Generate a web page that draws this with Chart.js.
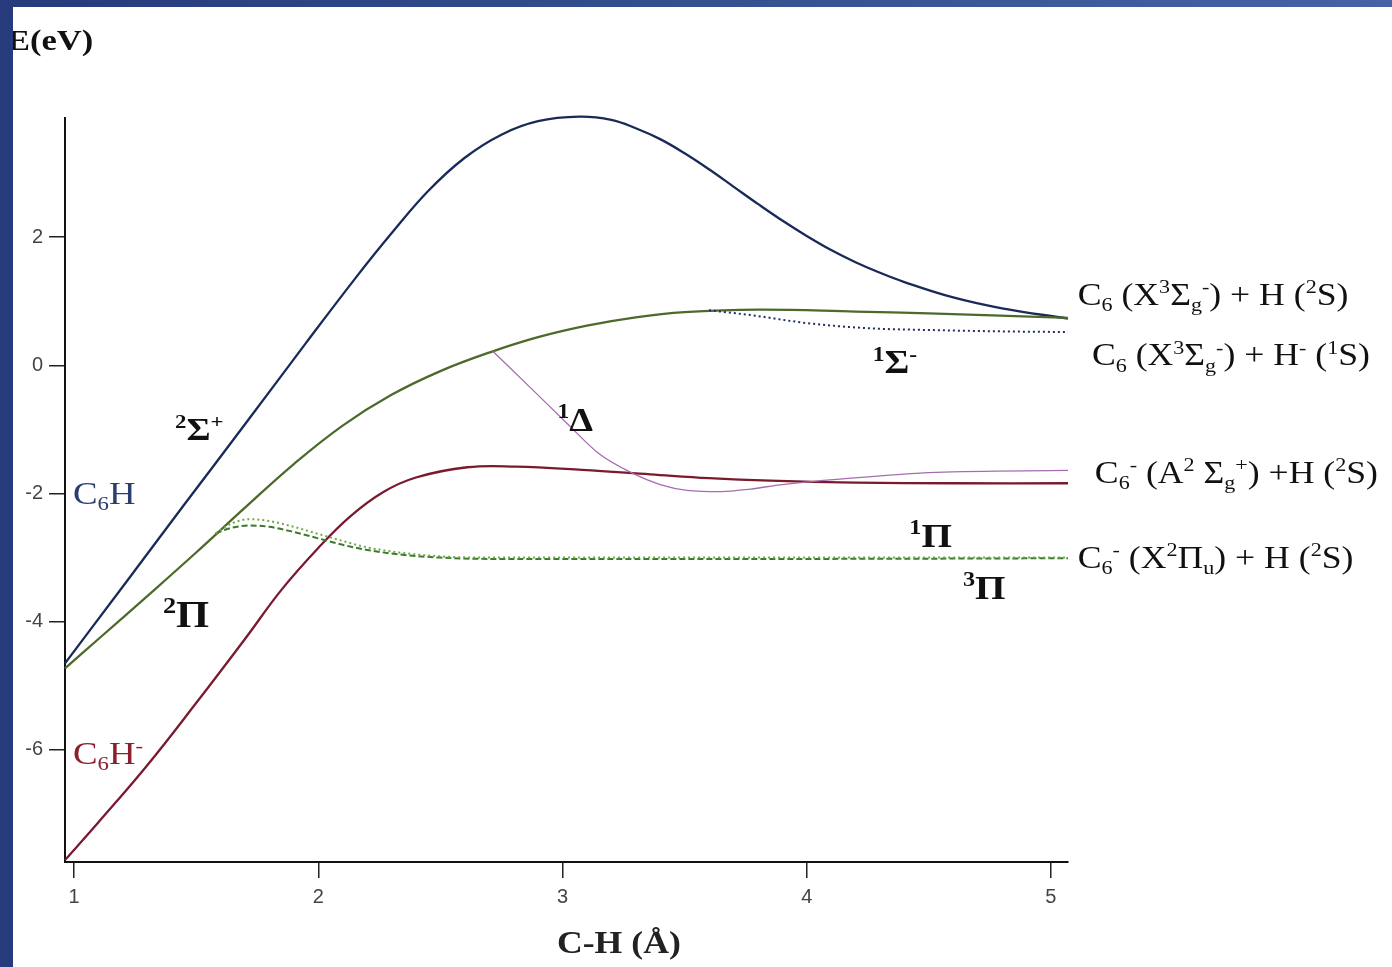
<!DOCTYPE html>
<html>
<head>
<meta charset="utf-8">
<script src="https://cdn.jsdelivr.net/npm/chart.js@4.4.0/dist/chart.umd.min.js"></script>
<style>
  html, body { margin: 0; padding: 0; }
  body { width: 1392px; height: 967px; overflow: hidden;
         background: linear-gradient(90deg, #263a7c 0%, #34508f 50%, #4663a6 100%); }
  #box { position: absolute; left: 13px; top: 7px; width: 1379px; height: 960px; background: #fff; }
</style>
</head>
<body>
<div id="box"><canvas id="myChart" width="1379" height="960"></canvas></div>
<script>
// C-H distance (Å) / energy (eV)
var rSigma = [0.963, 1.2, 1.45, 1.7, 1.95, 2.15, 2.3, 2.45, 2.6, 2.75, 2.9, 3.07, 3.2, 3.3, 3.4, 3.5, 3.6, 3.7, 3.8, 3.9, 4.0, 4.1, 4.2, 4.3, 4.4, 4.6, 4.8, 5.07];
var eSigma = [-4.65, -3.45, -2.18, -0.92, 0.35, 1.35, 2.06, 2.72, 3.24, 3.6, 3.81, 3.88, 3.83, 3.7, 3.53, 3.31, 3.06, 2.79, 2.52, 2.26, 2.02, 1.8, 1.61, 1.445, 1.3, 1.06, 0.89, 0.73];

var rPi = [0.963, 1.1, 1.3, 1.5, 1.7, 1.9, 2.1, 2.3, 2.5, 2.7, 2.9, 3.1, 3.3, 3.5, 3.8, 4.2, 4.5, 4.76, 5.07];
var ePi = [-4.73, -4.27, -3.6, -2.92, -2.22, -1.54, -0.94, -0.46, -0.09, 0.2, 0.44, 0.62, 0.75, 0.83, 0.87, 0.84, 0.81, 0.78, 0.74];

var rAnion = [0.963, 1.1, 1.3, 1.5, 1.7, 1.85, 2.0, 2.13, 2.265, 2.4, 2.61, 2.81, 3.08, 3.36, 3.6, 3.85, 4.2, 4.6, 5.07];
var eAnion = [-7.72, -7.13, -6.24, -5.27, -4.27, -3.5, -2.85, -2.36, -1.98, -1.75, -1.59, -1.58, -1.63, -1.7, -1.76, -1.8, -1.83, -1.84, -1.84];

var rDelta = [2.715, 2.88, 3.02, 3.15, 3.29, 3.4, 3.51, 3.65, 3.77, 3.9, 4.18, 4.53, 5.07];
var eDelta = [0.22, -0.39, -0.91, -1.38, -1.69, -1.86, -1.95, -1.97, -1.93, -1.86, -1.76, -1.67, -1.64];

var rTriplet = [1.58, 1.65, 1.72, 1.8, 1.9, 2.0, 2.1, 2.2, 2.33, 2.5, 2.7, 3.0, 4.0, 5.07];
var eTriplet = [-2.62, -2.53, -2.5, -2.52, -2.6, -2.7, -2.8, -2.88, -2.95, -3.0, -3.02, -3.02, -3.02, -3.01];

var rSinglet = [1.58, 1.65, 1.72, 1.8, 1.9, 2.0, 2.1, 2.2, 2.33, 2.5, 2.7, 3.0, 4.0, 5.07];
var eSinglet = [-2.62, -2.46, -2.4, -2.43, -2.52, -2.63, -2.74, -2.84, -2.92, -2.98, -3.0, -3.0, -3.0, -3.0];

var rSigMinus = [3.6, 3.78, 4.0, 4.25, 4.52, 4.8, 5.07];
var eSigMinus = [0.86, 0.78, 0.66, 0.58, 0.55, 0.53, 0.52];

var xTicks = [1, 2, 3, 4, 5];
var yTicks = [-6, -4, -2, 0, 2];

// state labels: [text, '^' sup / '_' sub]
var labelParts = [
    [['2', '^'], ['Σ'], ['+', '^']],
    [['C'], ['6', '_'], ['H']],
    [['2', '^'], ['Π']],
    [['C'], ['6', '_'], ['H'], ['-', '^']],
    [['1', '^'], ['Δ']],
    [['1', '^'], ['Σ'], ['-', '^']],
    [['1', '^'], ['Π']],
    [['3', '^'], ['Π']],
    [['C'], ['6', '_'], [' ('], ['X'], ['3', '^'], ['Σ'], ['g', '_'], ['-', '^'], [') + H ('], ['2', '^'], ['S)']],
    [['C'], ['6', '_'], [' ('], ['X'], ['3', '^'], ['Σ'], ['g', '_'], ['-', '^'], [') + H'], ['-', '^'], [' ('], ['1', '^'], ['S)']],
    [['C'], ['6', '_'], ['-', '^'], [' (A'], ['2', '^'], [' Σ'], ['g', '_'], ['+', '^'], [') +H ('], ['2', '^'], ['S)']],
    [['C'], ['6', '_'], ['-', '^'], [' (X'], ['2', '^'], ['Π'], ['u', '_'], [') + H ('], ['2', '^'], ['S)']]
];
var labelX = [1.4135, 0.996, 1.364, 0.996, 2.98, 4.27, 4.42, 4.64, 5.11, 5.168, 5.18, 5.11];
var labelY = [-1.17, -2.156, -4.09, -6.22, -1.02, -0.125, -2.84, -3.64, 0.94, 0.0, -1.84, -3.16];
var labelSize = [32, 32, 37, 32, 33, 33, 34, 34, 31, 31, 31, 31];
var labelBold = [true, false, true, false, true, true, true, true, false, false, false, false];
var labelColor = ['#111', '#2b3e6e', '#111', '#8b1f2b', '#111', '#111', '#111', '#111', '#111', '#111', '#111', '#111'];

function pairs(xs, ys) {
    var out = [];
    xs.forEach((x, i) => out.push({x: x, y: ys[i]}));
    return out;
}

// the figure's serif text is a bit wide, so stretch it horizontally
function drawRich(ctx, x, y, parts, size, bold, color) {
    ctx.save();
    ctx.translate(x, y);
    ctx.scale(1.15, 1);
    ctx.fillStyle = color;
    ctx.textAlign = 'left';
    ctx.textBaseline = 'alphabetic';
    var cx = 0;
    parts.forEach(p => {
        var s = size, dy = 0;
        if (p[1] === '^') { s = size * 0.62; dy = -size * 0.38; }
        if (p[1] === '_') { s = size * 0.62; dy = size * 0.2; }
        ctx.font = (bold ? 'bold ' : '') + s + 'px "Liberation Serif"';
        ctx.fillText(p[0], cx, dy);
        cx += ctx.measureText(p[0]).width;
    });
    ctx.restore();
}

var labelPlugin = {
    id: 'stateLabels',
    afterDatasetsDraw: function(chart) {
        var ctx = chart.ctx;
        var xs = chart.scales.x, ys = chart.scales.y;
        labelParts.forEach((parts, i) => {
            drawRich(ctx, xs.getPixelForValue(labelX[i]), ys.getPixelForValue(labelY[i]),
                parts, labelSize[i], labelBold[i], labelColor[i]);
        });
        // axis titles
        drawRich(ctx, -6, 43, [['E(eV)']], 30, true, '#111');
        drawRich(ctx, 544, 946, [['C-H (Å)']], 31, true, '#222');
    }
};

function lineSet(xs, ys, color, width, dash, smooth) {
    var ds = {
        data: pairs(xs, ys),
        showLine: true,
        borderColor: color,
        backgroundColor: color,
        borderWidth: width,
        borderDash: dash || [],
        pointRadius: 0,
        clip: 6,
        fill: false
    };
    if (smooth) ds.tension = 0.4;
    else ds.cubicInterpolationMode = 'monotone';
    return ds;
}

var ctx = document.getElementById('myChart').getContext('2d');
var chart = new Chart(ctx, {
    type: 'scatter',
    data: {
        datasets: [
            lineSet(rSigMinus, eSigMinus, '#1f2f60', 2, [2, 3]),
            lineSet(rSinglet, eSinglet, '#6fa84a', 2, [2, 3]),
            lineSet(rTriplet, eTriplet, '#3b7a2c', 2, [6, 3]),
            lineSet(rDelta, eDelta, '#a66cb0', 1.3),
            lineSet(rAnion, eAnion, '#7a1a2e', 2.3, null, true),
            lineSet(rPi, ePi, '#4d6a2c', 2.3, null, true),
            lineSet(rSigma, eSigma, '#1a2a58', 2.3, null, true)
        ]
    },
    plugins: [labelPlugin],
    options: {
        responsive: false,
        animation: false,
        layout: { padding: { left: 0, top: 111, right: 324, bottom: 0 } },
        plugins: { legend: { display: false }, tooltip: { enabled: false } },
        scales: {
            x: {
                type: 'linear',
                min: 0.963,
                max: 5.07,
                afterBuildTicks: function(axis) { axis.ticks = xTicks.map(v => ({value: v})); },
                afterFit: function(axis) { axis.height = 105; },
                grid: { drawOnChartArea: false, drawTicks: true, tickLength: 16, color: '#222', lineWidth: 1.5 },
                border: { display: true, color: '#111', width: 2 },
                ticks: { color: '#444', padding: 7, font: { family: '"Liberation Sans"', size: 20 } }
            },
            y: {
                type: 'linear',
                min: -7.75,
                max: 3.86,
                afterBuildTicks: function(axis) { axis.ticks = yTicks.map(v => ({value: v})); },
                afterFit: function(axis) { axis.width = 52; },
                grid: { drawOnChartArea: false, drawTicks: true, tickLength: 16, color: '#222', lineWidth: 1.5 },
                border: { display: true, color: '#111', width: 2 },
                ticks: { color: '#444', padding: 6, font: { family: '"Liberation Sans"', size: 20 } }
            }
        }
    }
});
</script>
</body>
</html>
